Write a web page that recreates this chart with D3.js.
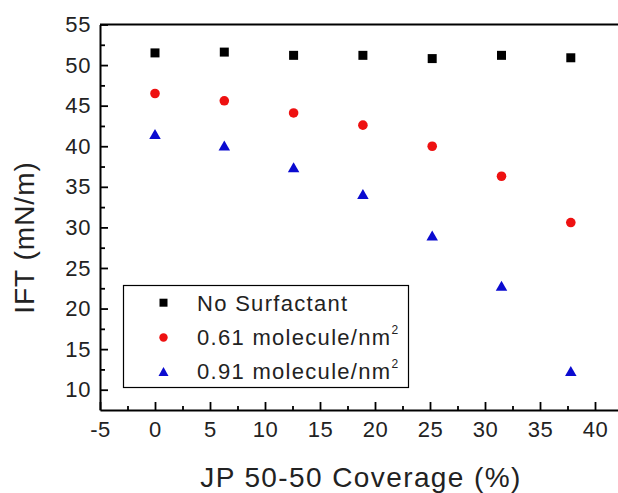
<!DOCTYPE html>
<html>
<head>
<meta charset="utf-8">
<script src="https://cdn.jsdelivr.net/npm/d3@7"></script>
<style>
  html, body { margin: 0; padding: 0; background: #fff; }
  svg { display: block; font-family: "Liberation Sans", Arial, sans-serif; }
</style>
</head>
<body>
<div id="vis"></div>
<script>
// values
const coverage = [0, 6.3, 12.6, 18.9, 25.2, 31.5, 37.8];
const noSurfactant = [51.5, 51.6, 51.2, 51.2, 50.8, 51.2, 50.9];
const mol061 = [46.5, 45.6, 44.1, 42.6, 40.0, 36.3, 30.6];
const mol091 = [41.5, 40.1, 37.4, 34.1, 29.0, 22.8, 12.3];

const xTicks = [-5, 0, 5, 10, 15, 20, 25, 30, 35, 40];
const xMinor = [-2.5, 2.5, 7.5, 12.5, 17.5, 22.5, 27.5, 32.5, 37.5, 42.5];
const yTicks = [10, 15, 20, 25, 30, 35, 40, 45, 50, 55];
const yMinor = [12.5, 17.5, 22.5, 27.5, 32.5, 37.5, 42.5, 47.5, 52.5];

const seriesNames = ["No Surfactant", "0.61 molecule/nm", "0.91 molecule/nm"];
const seriesSup = ["", "2", "2"];

const width = 618, height = 493;
const margin = { top: 24.5, left: 100, bottom: 410, right: 628 };

const svg = d3.select("#vis").append("svg")
  .attr("width", width)
  .attr("height", height);

const x = d3.scaleLinear([-5, 43], [margin.left, margin.right]);
const y = d3.scaleLinear([7.5, 55], [margin.bottom, margin.top]);

// marker shapes
function square(s) { return `M${-s/2},${-s/2}h${s}v${s}h${-s}Z`; }
function circle(r) { return d3.symbol(d3.symbolCircle, Math.PI * r * r)(); }
function triangle(w, h) { return `M0,${-h/2}L${w/2},${h/2}L${-w/2},${h/2}Z`; }

const series = [
  { name: seriesNames[0], values: noSurfactant, color: "#000000", path: square(9), legend: square(8) },
  { name: seriesNames[1], values: mol061, color: "#ee1111", path: circle(4.8), legend: circle(4.2) },
  { name: seriesNames[2], values: mol091, color: "#0b0bd0", path: triangle(11.5, 10), legend: triangle(10, 9) }
];

const plain = d => String(d); // hyphen minus, like the original

// axes
const gx = svg.append("g").attr("transform", `translate(0,${margin.bottom})`);
gx.call(d3.axisBottom(x).tickValues(xTicks).tickFormat(plain).tickSize(-8).tickPadding(11).tickSizeOuter(0));
svg.append("g").attr("transform", `translate(0,${margin.bottom})`)
  .call(d3.axisBottom(x).tickValues(xMinor).tickSize(-4).tickFormat("").tickSizeOuter(0))
  .select(".domain").remove();

const gy = svg.append("g").attr("transform", `translate(${margin.left},0)`);
gy.call(d3.axisLeft(y).tickValues(yTicks).tickFormat(plain).tickSize(-8).tickPadding(9).tickSizeOuter(0));
svg.append("g").attr("transform", `translate(${margin.left},0)`)
  .call(d3.axisLeft(y).tickValues(yMinor).tickSize(-5).tickFormat("").tickSizeOuter(0))
  .select(".domain").remove();

svg.selectAll(".tick line").attr("stroke", "#000").attr("stroke-width", 1.8);
svg.selectAll(".domain").attr("stroke", "#000").attr("stroke-width", 2);
svg.selectAll(".tick text")
  .attr("fill", "#222")
  .style("font-size", "22px")
  .style("letter-spacing", "0.6px")
  .style("font-family", "'Liberation Sans', Arial, sans-serif");

// top frame line
svg.append("line")
  .attr("x1", margin.left).attr("x2", margin.right)
  .attr("y1", margin.top).attr("y2", margin.top)
  .attr("stroke", "#000").attr("stroke-width", 2);

// data points
series.forEach(s => {
  svg.append("g").selectAll("path")
    .data(s.values)
    .join("path")
    .attr("d", s.path)
    .attr("fill", s.color)
    .attr("transform", (d, i) => `translate(${x(coverage[i])},${y(d)})`);
});

// legend
const legend = svg.append("g");
legend.append("rect")
  .attr("x", 123.5).attr("y", 285.5)
  .attr("width", 285).attr("height", 102)
  .attr("fill", "#fff").attr("stroke", "#000").attr("stroke-width", 1.2);

const rowY = [302.7, 337.5, 371.5];
series.forEach((s, i) => {
  legend.append("path")
    .attr("d", s.legend)
    .attr("fill", s.color)
    .attr("transform", `translate(163.5,${rowY[i]})`);
  const t = legend.append("text")
    .attr("x", 197)
    .attr("y", rowY[i] + 7.8)
    .attr("fill", "#222")
    .style("font-size", "22px")
    .style("letter-spacing", "1.3px")
    .text(s.name);
  if (seriesSup[i]) {
    t.append("tspan")
      .attr("dy", -11)
      .style("font-size", "12px")
      .style("letter-spacing", "0px")
      .text(seriesSup[i]);
  }
});

// axis titles
svg.append("text")
  .attr("x", 361)
  .attr("y", 487)
  .attr("text-anchor", "middle")
  .attr("fill", "#222")
  .style("font-size", "28px")
  .style("letter-spacing", "1.4px")
  .text("JP 50-50 Coverage (%)");

svg.append("text")
  .attr("transform", "translate(33.5,237.5) rotate(-90)")
  .attr("text-anchor", "middle")
  .attr("fill", "#222")
  .style("font-size", "28px")
  .style("letter-spacing", "1px")
  .text("IFT (mN/m)");
</script>
</body>
</html>
